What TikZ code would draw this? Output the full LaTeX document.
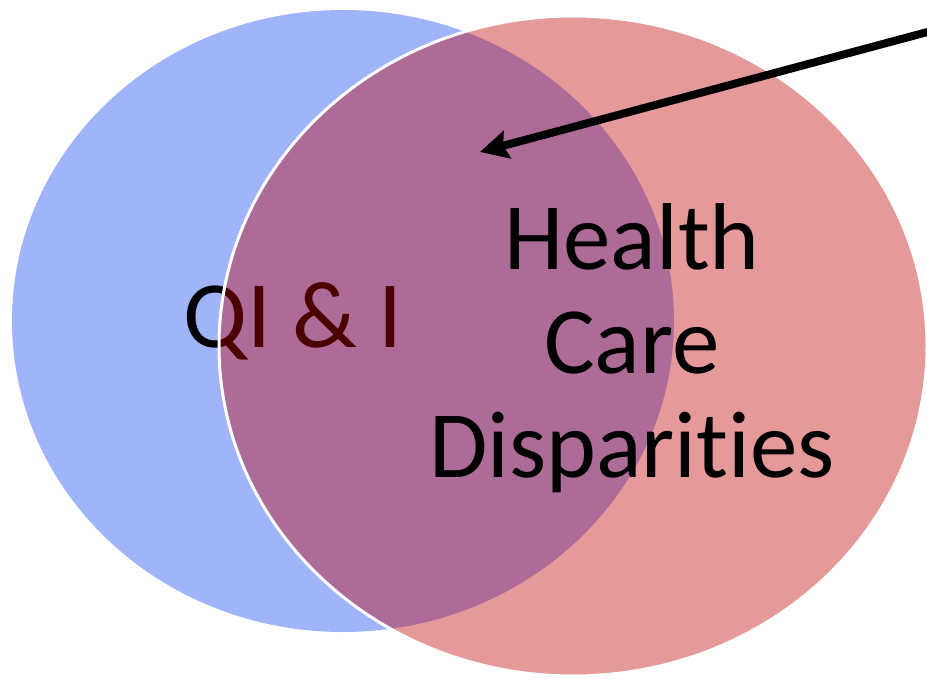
\documentclass[tikz,border=0pt]{standalone}
\usepackage{fontspec}
\setmainfont{Carlito}[RawFeature={-liga;-clig;-dlig}]
\usetikzlibrary{arrows.meta}
\definecolor{blueset}{RGB}{160,180,252}
\definecolor{redset}{RGB}{192,0,0}
\tikzset{
  setblue/.style={fill=blueset,draw=none},
  setred/.style={fill=redset,fill opacity=0.4,draw=white,draw opacity=1,line width=3pt},
  biglabel/.style={inner sep=0pt,font=\fontsize{95}{104}\selectfont,text=black},
  pointer/.style={draw=black,line width=8pt,-{Stealth[length=28pt,width=28pt,inset=4pt]}}
}
\begin{document}
\begin{tikzpicture}[x=1pt,y=-1pt]
\useasboundingbox (0,0) rectangle (927,679);
\fill[white] (0,0) rectangle (927,679);
\path[setblue] (343,321) ellipse [x radius=331, y radius=311];
\node[biglabel,anchor=base] (qi) at (293,348) {QI \& I};
\path[setred] (573,346) ellipse [x radius=354, y radius=330];
\node[biglabel,anchor=base,align=center] (hcd) at (632,477) {Health\\Care\\Disparities};
\coordinate (from) at (935,30);
\coordinate (to) at (480,152);
\draw[pointer] (from) -- (to);
\end{tikzpicture}
\end{document}
